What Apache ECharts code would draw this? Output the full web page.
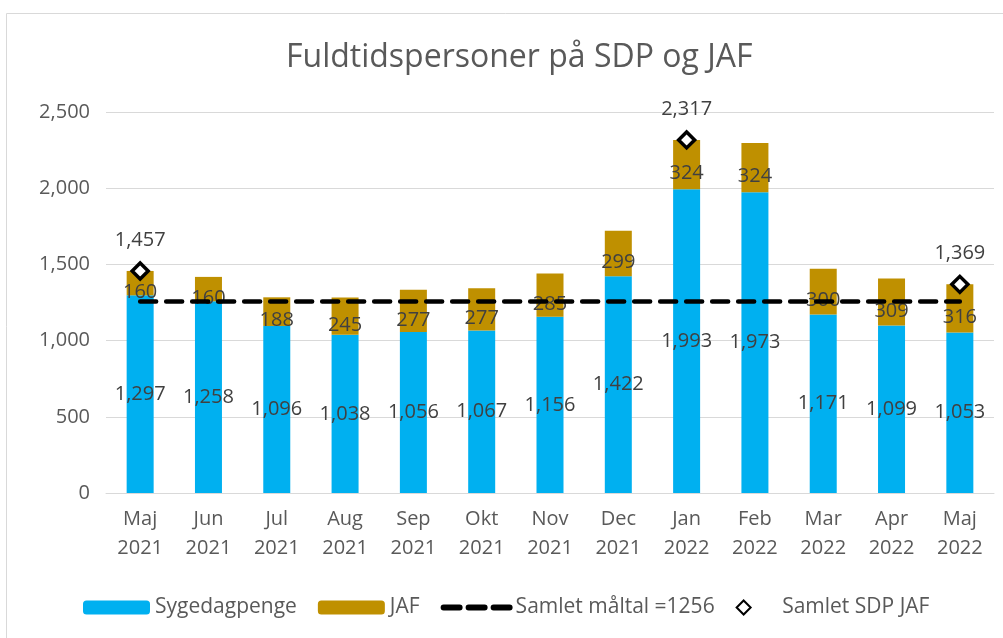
<!DOCTYPE html>
<html>
<head>
<meta charset="utf-8">
<script src="https://cdn.jsdelivr.net/npm/echarts@6/dist/echarts.min.js"></script>
<style>
    html, body { margin: 0; padding: 0; background: #fff; }
    #chart { width: 1003px; height: 638px; }
</style>
</head>
<body>
<div id="chart"></div>
<script>
    // data
    var months = ['Maj\n2021', 'Jun\n2021', 'Jul\n2021', 'Aug\n2021', 'Sep\n2021', 'Okt\n2021', 'Nov\n2021',
        'Dec\n2021', 'Jan\n2022', 'Feb\n2022', 'Mar\n2022', 'Apr\n2022', 'Maj\n2022'];
    var sygedagpenge = [1297, 1258, 1096, 1038, 1056, 1067, 1156, 1422, 1993, 1973, 1171, 1099, 1053];
    var jaf = [160, 160, 188, 245, 277, 277, 285, 299, 324, 324, 300, 309, 316];
    var maaltal = [1256, 1256, 1256, 1256, 1256, 1256, 1256, 1256, 1256, 1256, 1256, 1256, 1256];
    var samlet = [1457, '-', '-', '-', '-', '-', '-', '-', 2317, '-', '-', '-', 1369];
    var yTicks = [0, 500, 1000, 1500, 2000, 2500];

    var font = 'Open Sans';
    var diamond = 'path://M10,0 L20,10 L10,20 L0,10 Z';
    var fmt = function (v) {
        return Number(v).toLocaleString('en-US');
    };

    var chart = echarts.init(document.getElementById('chart'));

    var option = {
        animation: false,
        textStyle: { fontFamily: font },
        graphic: [{
            type: 'rect',
            silent: true,
            shape: { x: 6.5, y: 13.5, width: 1100, height: 700 },
            style: { fill: 'none', stroke: '#d9d9d9', lineWidth: 1 }
        }],
        title: {
            text: 'Fuldtidspersoner på SDP og JAF',
            left: 281,
            top: 37,
            textStyle: { fontFamily: font, fontSize: 32, fontWeight: 'normal', color: '#595959' }
        },
        grid: {
            left: 106,
            right: 9,
            top: 112,
            bottom: 145
        },
        legend: {
            left: 78,
            top: 592,
            itemWidth: 67,
            itemHeight: 14,
            itemGap: 21,
            textStyle: { fontFamily: font, fontSize: 21, color: '#595959' },
            data: [
                'Sygedagpenge',
                'JAF',
                {
                    name: 'Samlet måltal =1256',
                    itemStyle: { color: 'rgba(0,0,0,0)', borderWidth: 0, opacity: 0 },
                    lineStyle: { width: 6, type: [16, 9], cap: 'round' }
                },
                'Samlet SDP JAF'
            ]
        },
        xAxis: {
            type: 'category',
            data: months,
            axisLine: { show: true, lineStyle: { color: '#d9d9d9', width: 1 } },
            axisTick: { show: false },
            axisLabel: {
                color: '#595959',
                fontSize: 20,
                lineHeight: 29,
                margin: 12,
                interval: 0
            }
        },
        yAxis: {
            type: 'value',
            min: yTicks[0],
            max: yTicks[yTicks.length - 1],
            interval: 500,
            axisLine: { show: false },
            axisTick: { show: false },
            splitLine: { lineStyle: { color: '#d9d9d9', width: 1 } },
            axisLabel: {
                color: '#595959',
                fontSize: 20,
                margin: 16,
                formatter: fmt
            }
        },
        series: [
            {
                name: 'Sygedagpenge',
                type: 'bar',
                stack: 'total',
                barWidth: 27,
                itemStyle: { color: '#00b0f0' },
                label: {
                    show: true,
                    position: 'inside',
                    color: '#404040',
                    fontSize: 20,
                    formatter: function (p) { return fmt(p.value); }
                },
                data: sygedagpenge
            },
            {
                name: 'JAF',
                type: 'bar',
                stack: 'total',
                barWidth: 27,
                itemStyle: { color: '#bf9000' },
                label: {
                    show: true,
                    position: 'inside',
                    offset: [0, 9],
                    color: '#404040',
                    fontSize: 20,
                    formatter: function (p) { return fmt(p.value); }
                },
                data: jaf
            },
            {
                name: 'Samlet måltal =1256',
                type: 'line',
                symbol: 'none',
                lineStyle: { color: '#000', width: 4.5, type: [16, 10], cap: 'round' },
                itemStyle: { color: '#000' },
                z: 3,
                data: maaltal
            },
            {
                name: 'Samlet SDP JAF',
                type: 'scatter',
                symbol: diamond,
                symbolKeepAspect: true,
                symbolSize: 16,
                itemStyle: { color: '#fff', borderColor: '#000', borderWidth: 3.5, opacity: 1 },
                z: 4,
                label: {
                    show: true,
                    position: 'top',
                    distance: 11,
                    color: '#404040',
                    fontSize: 20,
                    formatter: function (p) { return fmt(p.value); }
                },
                data: samlet
            }
        ]
    };

    chart.setOption(option);
</script>
</body>
</html>
